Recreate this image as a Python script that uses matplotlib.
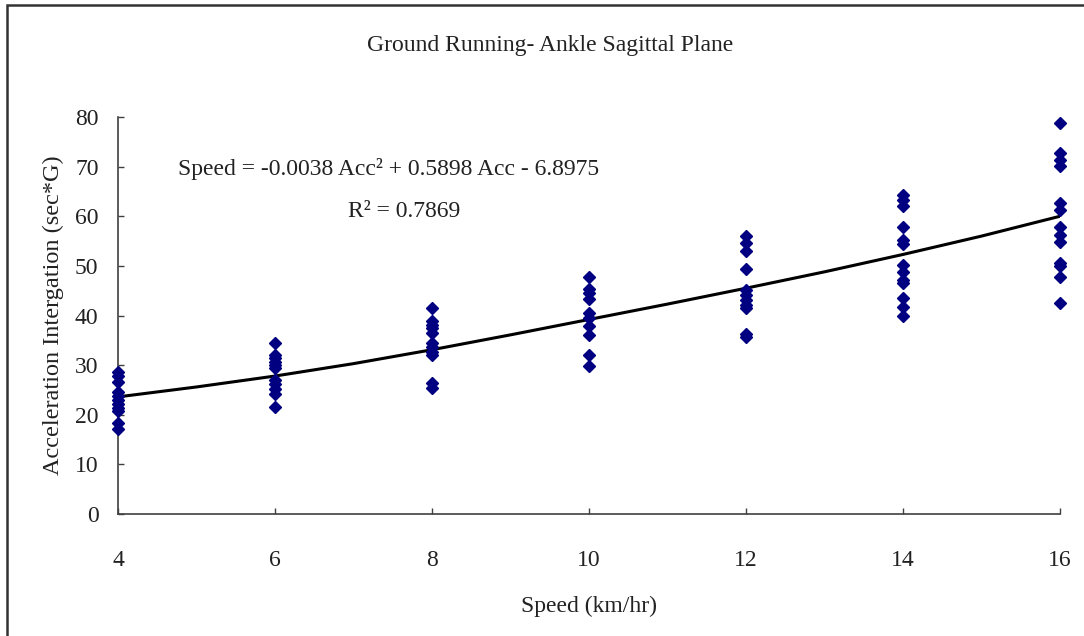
import matplotlib
matplotlib.use("Agg")
import matplotlib.pyplot as plt
from matplotlib.patches import Rectangle

plt.rcParams['font.family'] = ['Liberation Serif', 'DejaVu Serif']

speed_4 = [28.6, 27.8, 26.6, 24.6, 23.8, 23.0, 22.2, 21.4, 20.8, 18.4, 17.2]
speed_6 = [34.4, 32.1, 31.5, 30.7, 30.0, 29.4, 27.0, 26.2, 25.2, 24.2, 21.6]
speed_8 = [41.5, 38.8, 38.1, 37.4, 36.4, 34.4, 33.7, 32.7, 32.1, 26.4, 25.3]
speed_10 = [47.7, 45.3, 44.5, 43.3, 40.5, 39.5, 37.9, 36.1, 32.1, 29.8]
speed_12 = [56.0, 54.6, 52.9, 49.3, 45.2, 44.2, 43.1, 42.1, 41.5, 36.3, 35.6]
speed_14 = [64.3, 63.3, 62.1, 57.9, 55.2, 54.5, 50.2, 48.8, 47.2, 46.5, 43.5, 41.8, 39.9]
speed_16 = [78.8, 72.8, 71.4, 70.2, 62.6, 61.3, 57.9, 56.3, 54.9, 50.5, 50.0, 47.8, 42.5]
groups = {4: speed_4, 6: speed_6, 8: speed_8, 10: speed_10,
          12: speed_12, 14: speed_14, 16: speed_16}

# trendline as drawn
trend_x = [4, 5, 6, 7, 8, 9, 10, 11, 12, 13, 14, 15, 16]
trend_y = [23.6, 25.6, 27.8, 30.3, 33.1, 36.1, 39.2, 42.3, 45.5, 48.8, 52.3, 56.0, 60.0]

xticks = [4, 6, 8, 10, 12, 14, 16]
yticks = [0, 10, 20, 30, 40, 50, 60, 70, 80]

fig = plt.figure(figsize=(10.84, 6.36), dpi=100)
ax = fig.add_axes([118 / 1084, 1 - 514 / 636, (1060 - 118) / 1084, (514 - 117) / 636])

for sp, vals in groups.items():
    ax.plot([sp] * len(vals), vals, linestyle='none', marker='D', ms=6.5,
            color='#000080', mec='#000080', clip_on=False, zorder=3)

ax.plot(trend_x, trend_y, color='black', lw=2.2, zorder=2)

ax.set_xlim(4, 16)
ax.set_ylim(0, 80)
ax.set_xticks(xticks)
ax.set_yticks(yticks)
for s in ['top', 'right']:
    ax.spines[s].set_visible(False)
for s in ['left', 'bottom']:
    ax.spines[s].set_color('#404040')
    ax.spines[s].set_linewidth(1.2)
ax.tick_params(direction='in', length=4, width=1, color='#404040',
               labelsize=17, labelcolor='#222222')
ax.tick_params(axis='x', pad=26)
ax.tick_params(axis='y', pad=14)

ax.set_xlabel('Speed (km/hr)', fontsize=17, labelpad=18, color='#222222')
ax.set_ylabel('Acceleration Intergation (sec*G)', fontsize=17.5, labelpad=8, color='#222222')

fig.text(550 / 1084, 1 - 45 / 636, 'Ground Running- Ankle Sagittal Plane',
         ha='center', va='center', fontsize=17, color='#222222')
fig.text(389 / 1084, 1 - 169 / 636, 'Speed = -0.0038 Acc² + 0.5898 Acc - 6.8975',
         ha='center', va='center', fontsize=17, color='#222222')
fig.text(404 / 1084, 1 - 212 / 636, 'R² = 0.7869',
         ha='center', va='center', fontsize=17, color='#222222')

# outer chart frame (right and bottom edges fall outside the picture)
fig.patches.append(Rectangle((7 / 1084, -0.05), 1.1, 1 - 5 / 636 + 0.05,
                             transform=fig.transFigure, fill=False,
                             edgecolor='#333333', lw=1.8))

fig.savefig('out.png', dpi=100)
